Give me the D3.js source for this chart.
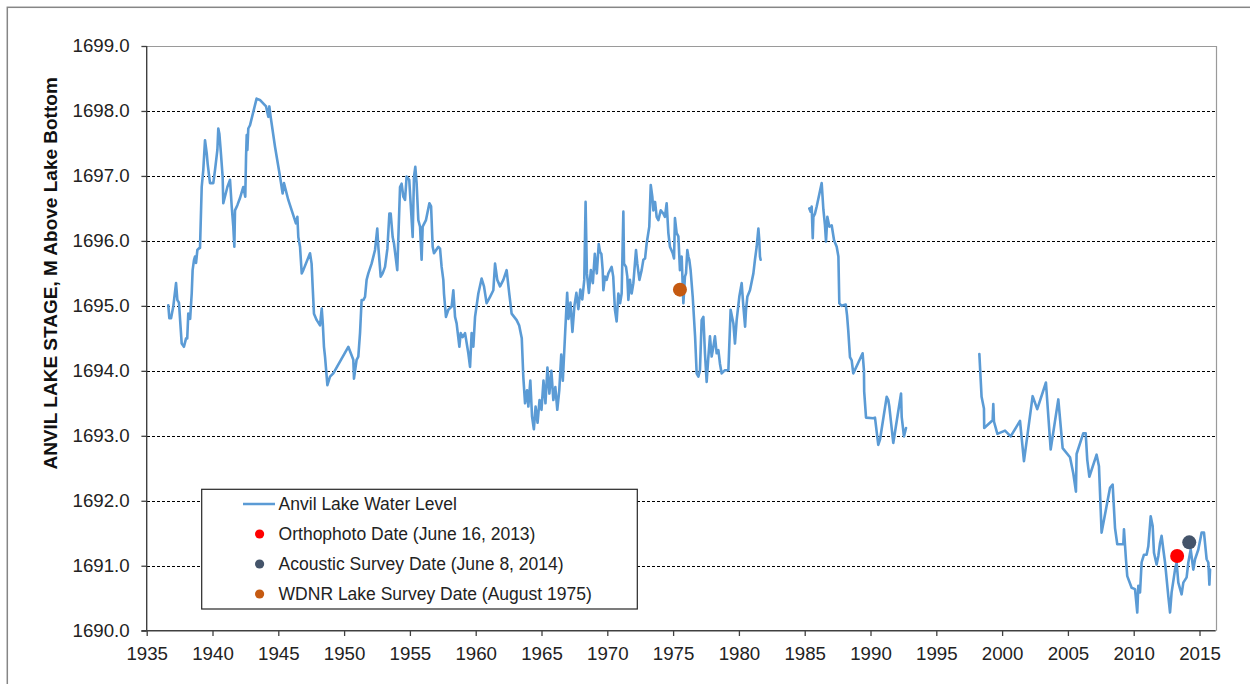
<!DOCTYPE html>
<html>
<head>
<meta charset="utf-8">
<script src="https://cdn.jsdelivr.net/npm/d3@7"></script>
<style>
html,body{margin:0;padding:0;background:#fff;}
svg{display:block;font-family:"Liberation Sans",Arial,sans-serif;}
</style>
</head>
<body>
<svg id="chart" width="1250" height="684"></svg>
<script>
// ---------------- DATA ----------------
// [year, stage] pairs; null marks a gap in the record
const waterLevelSeries = [
[1936.64,1695.01],[1936.72,1694.81],[1936.85,1694.81],[1937.02,1694.99],[1937.23,1695.35],[1937.33,1695.09],[1937.45,1695.05],
[1937.66,1694.42],[1937.83,1694.37],[1937.99,1694.50],[1938.08,1694.50],[1938.16,1694.88],[1938.30,1694.80],[1938.42,1695.19],
[1938.49,1695.55],[1938.59,1695.70],[1938.67,1695.76],[1938.75,1695.66],[1938.85,1695.86],[1939.00,1695.89],[1939.05,1695.89],
[1939.18,1696.83],[1939.30,1697.09],[1939.43,1697.55],[1939.56,1697.35],[1939.63,1697.19],[1939.81,1696.89],[1940.06,1696.89],
[1940.19,1697.09],[1940.37,1697.40],[1940.44,1697.73],[1940.52,1697.65],[1940.62,1697.40],[1940.77,1696.99],[1940.82,1696.58],
[1941.13,1696.83],[1941.33,1696.94],[1941.46,1696.53],[1941.58,1696.22],[1941.66,1695.91],[1941.71,1696.47],[1941.89,1696.55],
[1942.09,1696.66],[1942.34,1696.83],[1942.49,1696.68],[1942.55,1697.30],[1942.60,1697.63],[1942.65,1697.40],[1942.72,1697.73],
[1942.85,1697.78],[1943.35,1698.19],[1943.60,1698.17],[1944.07,1698.07],[1944.24,1697.91],[1944.32,1698.07],[1944.42,1697.91],
[1944.75,1697.45],[1945.13,1696.99],[1945.33,1696.73],[1945.43,1696.89],[1945.76,1696.63],[1946.34,1696.27],[1946.45,1696.37],
[1946.52,1696.06],[1946.65,1695.91],[1946.78,1695.50],[1946.90,1695.55],[1947.41,1695.81],[1947.53,1695.65],[1947.61,1695.30],
[1947.71,1694.88],[1947.92,1694.78],[1948.17,1694.70],[1948.30,1694.96],[1948.38,1694.73],[1948.47,1694.37],[1948.55,1694.22],
[1948.73,1693.78],[1948.93,1693.91],[1949.18,1693.96],[1950.32,1694.37],[1950.70,1694.17],[1950.75,1693.88],[1950.95,1694.17],
[1951.08,1694.22],[1951.21,1694.58],[1951.33,1695.09],[1951.46,1695.09],[1951.59,1695.14],[1951.71,1695.40],[1951.84,1695.50],
[1952.09,1695.65],[1952.35,1695.86],[1952.52,1696.19],[1952.60,1695.91],[1952.78,1695.45],[1952.93,1695.50],[1953.11,1695.60],
[1953.29,1695.88],[1953.44,1696.42],[1953.54,1696.42],[1953.69,1696.06],[1953.79,1695.96],[1954.04,1695.55],[1954.25,1696.83],
[1954.37,1696.88],[1954.50,1696.68],[1954.63,1696.63],[1954.75,1696.99],[1954.95,1696.94],[1955.21,1696.06],[1955.31,1696.99],
[1955.41,1697.14],[1955.51,1696.89],[1955.64,1696.32],[1955.77,1696.22],[1955.89,1695.71],[1955.97,1696.22],[1956.22,1696.32],
[1956.48,1696.58],[1956.61,1696.53],[1956.73,1695.91],[1956.83,1695.81],[1957.16,1695.91],[1957.29,1695.88],[1957.41,1695.60],
[1957.54,1695.40],[1957.59,1695.19],[1957.74,1694.83],[1957.92,1694.94],[1958.17,1694.99],[1958.30,1695.24],[1958.43,1694.83],
[1958.55,1694.73],[1958.76,1694.37],[1958.86,1694.58],[1959.01,1694.52],[1959.19,1694.58],[1959.44,1694.27],[1959.57,1694.06],
[1959.69,1694.58],[1959.82,1694.37],[1959.95,1694.83],[1960.20,1695.19],[1960.45,1695.42],[1960.63,1695.30],[1960.83,1695.04],
[1961.09,1695.14],[1961.34,1695.24],[1961.47,1695.65],[1961.64,1695.40],[1961.85,1695.30],[1962.10,1695.40],[1962.35,1695.55],
[1962.55,1695.19],[1962.73,1694.88],[1963.11,1694.78],[1963.30,1694.70],[1963.50,1694.50],[1963.62,1693.90],[1963.75,1693.50],
[1963.90,1693.70],[1964.00,1693.45],[1964.15,1693.85],[1964.28,1693.30],[1964.42,1693.10],[1964.55,1693.45],[1964.70,1693.20],
[1964.85,1693.55],[1965.00,1693.40],[1965.15,1693.85],[1965.30,1693.50],[1965.45,1694.05],[1965.60,1693.65],[1965.75,1694.00],
[1965.90,1693.55],[1966.05,1693.75],[1966.20,1693.40],[1966.35,1693.70],[1966.50,1694.25],[1966.62,1693.85],[1966.80,1694.60],
[1966.95,1695.20],[1967.05,1694.80],[1967.20,1695.05],[1967.35,1694.60],[1967.50,1695.00],[1967.65,1695.20],[1967.80,1694.95],
[1967.95,1695.25],[1968.10,1695.10],[1968.25,1695.40],[1968.35,1696.60],[1968.45,1695.50],[1968.60,1695.20],[1968.75,1695.55],
[1968.90,1695.35],[1969.05,1695.80],[1969.20,1695.50],[1969.35,1695.95],[1969.45,1695.83],[1969.55,1695.80],[1969.65,1695.55],
[1969.70,1695.24],[1969.82,1695.45],[1969.95,1695.40],[1970.08,1695.50],[1970.33,1695.60],[1970.45,1695.45],[1970.58,1694.94],
[1970.71,1694.76],[1970.84,1695.19],[1970.97,1695.04],[1971.09,1695.19],[1971.22,1696.45],[1971.27,1695.65],[1971.42,1695.60],
[1971.52,1695.45],[1971.60,1695.09],[1971.72,1695.40],[1971.85,1695.19],[1971.98,1695.35],[1972.18,1695.86],[1972.28,1695.65],
[1972.44,1695.40],[1972.61,1695.55],[1972.74,1695.71],[1972.87,1695.73],[1972.99,1695.96],[1973.19,1696.22],[1973.30,1696.86],
[1973.42,1696.68],[1973.50,1696.47],[1973.63,1696.60],[1973.75,1696.37],[1973.88,1696.32],[1974.06,1696.47],[1974.26,1696.42],
[1974.38,1696.37],[1974.51,1696.58],[1974.64,1696.12],[1974.76,1695.91],[1974.97,1695.81],[1975.07,1695.73],[1975.14,1696.35],
[1975.27,1696.12],[1975.40,1696.07],[1975.52,1695.55],[1975.65,1695.76],[1975.78,1695.04],[1975.90,1695.45],[1975.98,1695.50],
[1976.08,1695.86],[1976.16,1695.76],[1976.23,1695.71],[1976.33,1695.55],[1976.49,1695.14],[1976.67,1694.53],[1976.79,1693.96],
[1976.92,1693.91],[1977.04,1694.01],[1977.17,1694.78],[1977.30,1694.83],[1977.42,1694.27],[1977.55,1693.83],[1977.68,1694.22],
[1977.80,1694.53],[1977.93,1694.22],[1978.06,1694.37],[1978.18,1694.53],[1978.31,1694.27],[1978.44,1694.32],[1978.56,1694.11],
[1978.69,1693.96],[1978.94,1694.01],[1979.20,1694.01],[1979.37,1694.94],[1979.58,1694.73],[1979.70,1694.42],[1979.83,1694.78],
[1980.03,1695.14],[1980.21,1695.35],[1980.34,1694.99],[1980.47,1694.68],[1980.54,1694.94],[1980.64,1695.14],[1980.84,1695.24],
[1981.10,1695.50],[1981.22,1695.71],[1981.35,1695.91],[1981.48,1696.19],[1981.55,1696.01],[1981.60,1695.76],[1981.65,1695.71],
null,
[1985.35,1696.50],[1985.45,1696.45],[1985.53,1696.53],[1985.61,1696.04],[1985.66,1696.37],[1985.78,1696.42],[1985.91,1696.53],
[1986.29,1696.89],[1986.42,1696.48],[1986.54,1696.24],[1986.62,1695.99],[1986.72,1696.37],[1986.87,1696.22],[1987.05,1696.24],
[1987.23,1696.01],[1987.43,1695.91],[1987.56,1695.76],[1987.63,1695.04],[1987.80,1695.00],[1988.12,1695.02],[1988.22,1694.85],
[1988.31,1694.62],[1988.44,1694.21],[1988.57,1694.16],[1988.69,1693.96],[1989.40,1694.27],[1989.50,1694.01],[1989.52,1693.68],
[1989.66,1693.28],[1990.21,1693.27],[1990.34,1693.28],[1990.59,1692.86],[1990.72,1692.94],[1991.23,1693.60],[1991.35,1693.55],
[1991.43,1693.45],[1991.73,1692.89],[1992.32,1693.65],[1992.37,1693.29],[1992.54,1692.99],[1992.70,1693.12],
null,
[1998.27,1694.26],[1998.44,1693.60],[1998.62,1693.42],[1998.64,1693.12],[1999.28,1693.24],[1999.33,1693.49],[1999.38,1693.22],
[1999.64,1693.03],[2000.22,1693.08],[2000.65,1692.99],[2001.36,1693.23],[2001.66,1692.61],[2002.32,1693.61],[2002.67,1693.41],
[2003.33,1693.82],[2003.69,1692.79],[2004.27,1693.56],[2004.60,1692.81],[2005.16,1692.67],[2005.41,1692.42],[2005.61,1692.14],
[2005.66,1692.72],[2006.17,1693.04],[2006.35,1693.04],[2006.47,1692.63],[2006.63,1692.37],[2007.18,1692.71],[2007.36,1692.53],
[2007.56,1691.51],[2008.20,1692.20],[2008.40,1692.25],[2008.58,1691.58],[2008.75,1691.33],[2009.21,1691.33],[2009.26,1691.56],
[2009.41,1691.10],[2009.51,1690.84],[2009.84,1690.66],[2010.10,1690.64],[2010.27,1690.28],[2010.35,1690.69],[2010.48,1690.59],
[2010.60,1691.05],[2010.78,1691.17],[2010.98,1691.17],[2011.11,1691.30],[2011.29,1691.76],[2011.44,1691.61],[2011.54,1691.20],
[2011.74,1691.02],[2011.87,1691.15],[2012.00,1691.35],[2012.12,1691.46],[2012.25,1691.25],[2012.38,1691.05],[2012.63,1690.53],
[2012.76,1690.28],[2012.88,1690.59],[2013.14,1690.94],[2013.26,1691.05],[2013.39,1690.74],[2013.64,1690.56],[2013.77,1690.74],
[2014.02,1690.82],[2014.15,1691.05],[2014.33,1691.25],[2014.53,1690.94],[2014.66,1691.10],[2014.91,1691.25],[2015.16,1691.51],
[2015.34,1691.51],[2015.54,1691.10],[2015.67,1691.05],[2015.75,1690.71],[2015.80,1690.94]
];

const surveyNames  = ["Orthophoto Date (June 16, 2013)", "Acoustic Survey Date (June 8, 2014)", "WDNR Lake Survey Date (August 1975)"];
const surveyYears  = [2013.30, 2014.22, 1975.52];
const surveyLevels = [1691.15, 1691.36, 1695.25];

const seriesName = "Anvil Lake Water Level";
const xTickYears = [1935,1940,1945,1950,1955,1960,1965,1970,1975,1980,1985,1990,1995,2000,2005,2010,2015];
const yTickValues = [1690,1691,1692,1693,1694,1695,1696,1697,1698,1699];
const xDomain = [1935, 2016.23];
const yDomain = [1690, 1699];
const yAxisTitle = "ANVIL LAKE STAGE, M Above Lake Bottom";

// ---------------- STYLE / LAYOUT ----------------
const lineColor = "#5B9BD5";
const surveyColors = ["#FF0000", "#44546A", "#C55A11"];
const plot = {left: 146.7, right: 1215.7, top: 46, bottom: 630.7};

const svg = d3.select("#chart");

// outer chart border
svg.append("rect").attr("x", 7.3).attr("y", 7.3).attr("width", 1300).attr("height", 720)
  .attr("fill", "none").attr("stroke", "#868686").attr("stroke-width", 1.5);

const x = d3.scaleLinear().domain(xDomain).range([plot.left, plot.right]);
const y = d3.scaleLinear().domain(yDomain).range([plot.bottom, plot.top]);
const snap = v => Math.round(v) + 0.5;

// gridlines
svg.append("g").selectAll("line").data(yTickValues.filter(v => v > 1690 && v < 1699)).join("line")
  .attr("x1", plot.left).attr("x2", plot.right)
  .attr("y1", d => snap(y(d))).attr("y2", d => snap(y(d)))
  .attr("stroke", "#000").attr("stroke-width", 1).attr("stroke-dasharray", "3,2")
  .attr("shape-rendering", "crispEdges");

// plot area border (top, right)
svg.append("path")
  .attr("d", `M${plot.left},${snap(y(1699))}H${snap(plot.right)}V${plot.bottom}`)
  .attr("fill", "none").attr("stroke", "#9a9a9a").attr("stroke-width", 1.2);

// water level line
const line = d3.line()
  .defined(d => d !== null)
  .x(d => x(d[0])).y(d => y(d[1]));
svg.append("path").datum(waterLevelSeries)
  .attr("d", line).attr("fill", "none")
  .attr("stroke", lineColor).attr("stroke-width", 2.6)
  .attr("stroke-linejoin", "round").attr("stroke-linecap", "round");

// survey markers
svg.append("g").selectAll("circle").data(surveyYears.map((yr, i) => ({yr, lv: surveyLevels[i], c: surveyColors[i]})))
  .join("circle")
  .attr("cx", d => x(d.yr)).attr("cy", d => y(d.lv)).attr("r", 7)
  .attr("fill", d => d.c);

// axes
const fontSize = 18.7;
const yAxis = d3.axisLeft(y).tickValues(yTickValues).tickFormat(d3.format(".1f"))
  .tickSize(5.3).tickPadding(11.7);
const gy = svg.append("g").attr("transform", `translate(${plot.left},0)`).call(yAxis);
const xAxis = d3.axisBottom(x).tickValues(xTickYears).tickFormat(d3.format("d"))
  .tickSize(5.3).tickPadding(10.7);
const gx = svg.append("g").attr("transform", `translate(0,${plot.bottom})`).call(xAxis);

[gx, gy].forEach(g => {
  g.select(".domain").remove();
  g.selectAll(".tick line").attr("stroke", "#404040").attr("stroke-width", 1.3);
  g.selectAll(".tick text").attr("fill", "#222").style("font-size", fontSize + "px")
    .style("font-family", '"Liberation Sans", Arial, sans-serif');
});
// axis lines
svg.append("line").attr("x1", plot.left).attr("x2", plot.left)
  .attr("y1", plot.top).attr("y2", plot.bottom + 0.6)
  .attr("stroke", "#404040").attr("stroke-width", 1.4);
svg.append("line").attr("x1", plot.left - 5.3).attr("x2", plot.right)
  .attr("y1", plot.bottom).attr("y2", plot.bottom)
  .attr("stroke", "#404040").attr("stroke-width", 1.4);

// y axis title
svg.append("text")
  .attr("transform", `translate(57.3,273.4) rotate(-90)`)
  .attr("text-anchor", "middle")
  .style("font-size", "19px").style("font-weight", "bold").attr("fill", "#111")
  .text(yAxisTitle);

// legend
const lg = svg.append("g");
lg.append("rect").attr("x", 201.7).attr("y", 489.3).attr("width", 435.6).attr("height", 119.7)
  .attr("fill", "#fff").attr("stroke", "#262626").attr("stroke-width", 1.2);
const rowY = [504, 534, 564, 594];
lg.append("line").attr("x1", 243).attr("x2", 275).attr("y1", rowY[0]).attr("y2", rowY[0])
  .attr("stroke", lineColor).attr("stroke-width", 2.5);
surveyNames.forEach((n, i) => {
  lg.append("circle").attr("cx", 259.6).attr("cy", rowY[i + 1]).attr("r", 4.6).attr("fill", surveyColors[i]);
});
[seriesName, ...surveyNames].forEach((t, i) => {
  lg.append("text").attr("x", 278.6).attr("y", rowY[i]).attr("dy", "0.35em")
    .style("font-size", "17.5px").attr("fill", "#222").text(t);
});
</script>
</body>
</html>
